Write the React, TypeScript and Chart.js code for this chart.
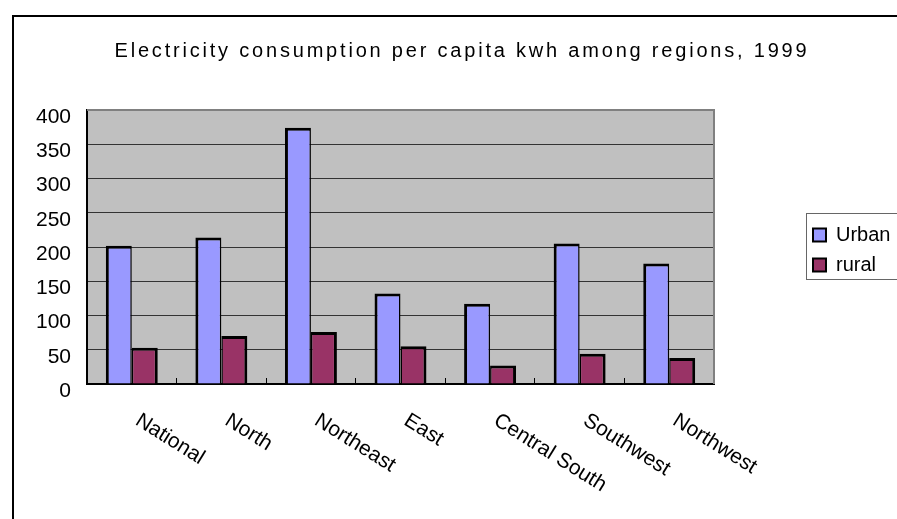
import { useEffect, useRef } from 'react';
import { Chart, registerables } from 'chart.js';

Chart.register(...registerables);

const TITLE = 'Electricity consumption per capita kwh among regions, 1999';
const categories = ['National', 'North', 'Northeast', 'East', 'Central South', 'Southwest', 'Northwest'];
const urbanValues = [202, 214, 374, 132, 117, 205, 176];
const ruralValues = [53, 70, 76, 55, 27, 44, 38];
const seriesNames = ['Urban', 'rural'];
const yMin = 0;
const yMax = 400;
const yStep = 50;

const FONT = '"Liberation Sans", Arial, sans-serif';

export default function App() {
  const ref = useRef<HTMLCanvasElement>(null);

  useEffect(() => {
    const canvas = ref.current;
    if (!canvas) return;

    const decor = {
      id: 'decor',
      beforeDraw(chart: any) {
        const { ctx, chartArea: a } = chart;
        ctx.save();
        ctx.fillStyle = '#c0c0c0';
        ctx.fillRect(a.left, a.top, a.right - a.left, a.bottom - a.top);
        ctx.restore();
        const lg = chart.legend;
        if (lg) {
          const w = lg.width;
          lg.left = 803;
          lg.right = 803 + w;
          lg.top = 215;
          lg.bottom = 215 + 80;
          lg.height = 80;
        }
      },
      afterDraw(chart: any) {
        const { ctx, chartArea: a } = chart;
        ctx.save();
        // plot area top / right border
        ctx.strokeStyle = '#808080';
        ctx.lineWidth = 2;
        ctx.beginPath();
        ctx.moveTo(a.left, a.top);
        ctx.lineTo(a.right, a.top);
        ctx.lineTo(a.right, a.bottom);
        ctx.stroke();

        // legend frame
        ctx.strokeStyle = '#666666';
        ctx.lineWidth = 1;
        ctx.strokeRect(806.5, 213.5, 120, 66);

        // outer frame
        ctx.strokeStyle = '#000';
        ctx.lineWidth = 2;
        ctx.strokeRect(13, 16, 1000, 1000);

        // title
        ctx.fillStyle = '#000';
        ctx.font = `20px ${FONT}`;
        (ctx as any).letterSpacing = '2.8px';
        ctx.textAlign = 'center';
        ctx.textBaseline = 'alphabetic';
        ctx.fillText(TITLE, 462, 57);
        (ctx as any).letterSpacing = '0px';

        // rotated category labels
        const xs = chart.scales.x;
        ctx.font = `21px ${FONT}`;
        ctx.textAlign = 'left';
        ctx.textBaseline = 'top';
        (chart.data.labels as string[]).forEach((lab, i) => {
          const px = xs.getPixelForValue(i);
          ctx.save();
          ctx.translate(px + 11, a.bottom + 26);
          ctx.rotate((32 * Math.PI) / 180);
          ctx.fillText(lab, 0, 0);
          ctx.restore();
        });
        ctx.restore();
      },
    };

    const chart = new Chart(canvas, {
      type: 'bar',
      data: {
        labels: categories,
        datasets: [
          {
            label: seriesNames[0],
            data: urbanValues,
            backgroundColor: '#9999ff',
            borderColor: '#000',
            borderWidth: { top: 3, left: 3, right: 1.5, bottom: 0 },
            categoryPercentage: 0.58,
            barPercentage: 1,
          },
          {
            label: seriesNames[1],
            data: ruralValues,
            backgroundColor: '#993366',
            borderColor: '#000',
            borderWidth: { top: 3, left: 1.5, right: 3, bottom: 0 },
            categoryPercentage: 0.58,
            barPercentage: 1,
          },
        ],
      },
      options: {
        responsive: false,
        animation: false,
        layout: { padding: { left: 12, right: 183, top: 110, bottom: 135 } },
        plugins: {
          title: { display: false },
          tooltip: { enabled: false },
          legend: {
            position: 'chartArea' as any,
            align: 'start',
            labels: {
              boxWidth: 13,
              boxHeight: 13,
              padding: 10,
              color: '#000',
              font: { family: FONT, size: 20 },
              generateLabels: (c: any) =>
                Chart.defaults.plugins.legend.labels
                  .generateLabels(c)
                  .map((l: any) => ({ ...l, lineWidth: 2, strokeStyle: '#000' })),
            },
          },
        },
        scales: {
          x: {
            grid: {
              display: true,
              drawOnChartArea: false,
              drawTicks: true,
              tickLength: -6,
              color: '#000',
              lineWidth: 1,
              offset: true,
            },
            border: { display: true, color: '#000', width: 2 },
            ticks: { display: false },
            afterFit: (s: any) => {
              s.height = 0;
            },
          },
          y: {
            min: yMin,
            max: yMax,
            ticks: {
              stepSize: yStep,
              color: '#000',
              font: { family: FONT, size: 21 },
              padding: 16,
              labelOffset: 7,
            },
            grid: { color: '#333', lineWidth: 1, drawTicks: false },
            border: { color: '#000', width: 2 },
            afterFit: (s: any) => {
              s.width = 75;
            },
          },
        },
      },
      plugins: [decor],
    });

    return () => chart.destroy();
  }, []);

  return (
    <div style={{ position: 'absolute', left: 0, top: 0, width: 897, height: 519, background: '#fff' }}>
      <canvas ref={ref} width={897} height={519} style={{ display: 'block' }} />
    </div>
  );
}
